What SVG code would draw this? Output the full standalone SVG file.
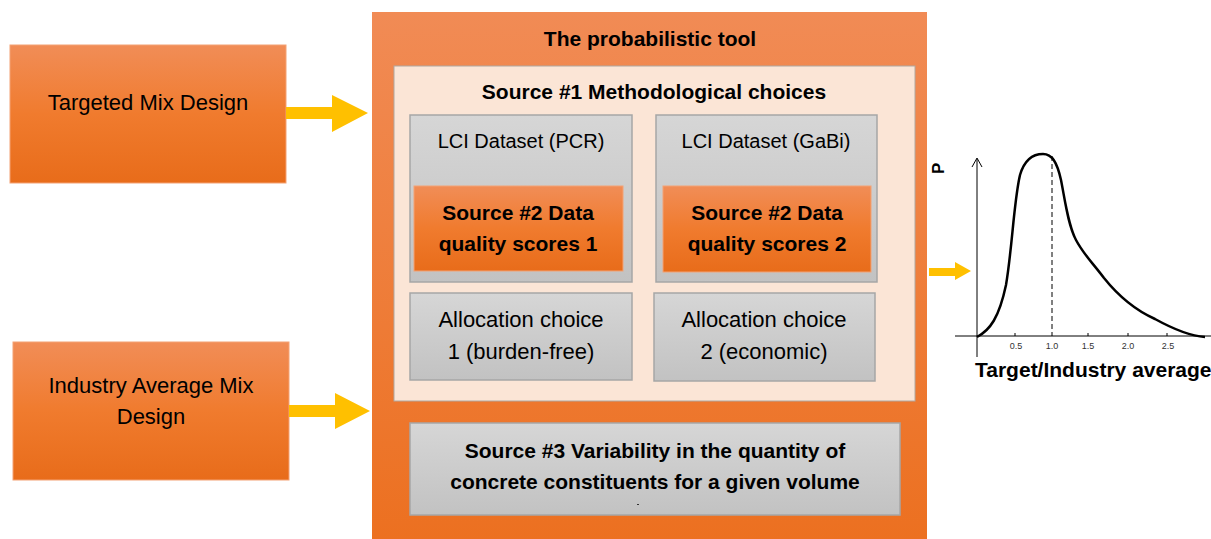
<svg xmlns="http://www.w3.org/2000/svg" width="1211" height="539" viewBox="0 0 1211 539">
<defs>
<linearGradient id="og" x1="0" y1="0" x2="0" y2="1">
<stop offset="0" stop-color="#F18D57"/><stop offset="0.5" stop-color="#F07B2E"/><stop offset="1" stop-color="#E86C1A"/>
</linearGradient>
<linearGradient id="mg" x1="0" y1="0" x2="0" y2="1">
<stop offset="0" stop-color="#F18B55"/><stop offset="1" stop-color="#EC7020"/>
</linearGradient>
<linearGradient id="gg" x1="0" y1="0" x2="0" y2="1">
<stop offset="0" stop-color="#D6D6D6"/><stop offset="1" stop-color="#C2C2C2"/>
</linearGradient>
</defs>
<style>
.t{font-family:"Liberation Sans",Arial,sans-serif;fill:#000;text-anchor:middle}
.r{font-size:22px}
.l{font-size:20px}
.b{font-size:21px;font-weight:bold}
.ob{fill:url(#og);stroke:#F4A274;stroke-width:1}
.gb{fill:url(#gg);stroke:#A6A6A6;stroke-width:1.5}
.ar{fill:#FFC000}
.tick{font-family:"Liberation Sans",Arial,sans-serif;font-size:9px;fill:#333;text-anchor:middle}
</style>
<rect width="1211" height="539" fill="#fff"/>

<g id="targeted">
<rect class="ob" x="10" y="45" width="276" height="138"/>
<text class="t r" x="148" y="110">Targeted Mix Design</text>
</g>

<g id="industry">
<rect class="ob" x="13" y="342" width="276" height="138"/>
<text class="t r" x="151" y="393">Industry Average Mix</text>
<text class="t r" x="151" y="424">Design</text>
</g>

<g id="tool">
<rect x="372" y="12" width="555" height="530" fill="url(#mg)"/>
<text class="t b" x="650" y="46">The probabilistic tool</text>
</g>

<g id="source1">
<rect x="394" y="66" width="521" height="335" fill="#FBE5D6" stroke="#B0A8A0" stroke-width="1"/>
<text class="t b" x="654" y="99">Source #1 Methodological choices</text>
</g>

<g id="lci-pcr">
<rect class="gb" x="410" y="115" width="222" height="167"/>
<text class="t l" x="521" y="148">LCI Dataset (PCR)</text>
</g>
<g id="dq1">
<rect class="ob" x="414" y="186" width="209" height="85"/>
<text class="t b" x="518" y="220">Source #2 Data</text>
<text class="t b" x="518" y="251">quality scores 1</text>
</g>

<g id="lci-gabi">
<rect class="gb" x="656" y="115" width="221" height="167"/>
<text class="t l" x="766" y="148">LCI Dataset (GaBi)</text>
</g>
<g id="dq2">
<rect class="ob" x="663" y="186" width="208" height="86"/>
<text class="t b" x="767" y="220">Source #2 Data</text>
<text class="t b" x="767" y="251">quality scores 2</text>
</g>

<g id="alloc1">
<rect class="gb" x="410" y="293" width="222" height="87"/>
<text class="t r" x="521" y="327">Allocation choice</text>
<text class="t r" x="521" y="359">1 (burden-free)</text>
</g>
<g id="alloc2">
<rect class="gb" x="654" y="293" width="221" height="88"/>
<text class="t r" x="764" y="327">Allocation choice</text>
<text class="t r" x="764" y="359">2 (economic)</text>
</g>

<g id="source3">
<rect class="gb" x="410" y="423" width="490" height="92"/>
<text class="t b" x="655" y="458">Source #3 Variability in the quantity of</text>
<text class="t b" x="655" y="489">concrete constituents for a given volume</text>
<rect x="637" y="504" width="2" height="1" fill="#333"/>
</g>

<g id="connectors">
<polygon class="ar" points="286,107 332,107 332,95 368,113 332,132 332,119 286,119"/>
<polygon class="ar" points="289,405 335,405 335,393 370,411 335,429 335,417 289,417"/>
<polygon class="ar" points="929,268 955,268 955,262 971,271 955,280 955,276 929,276"/>
</g>

<g id="chart">
<line x1="977" y1="357" x2="977" y2="159" stroke="#000" stroke-width="1"/>
<polyline points="972,167 977,158 982,167" fill="none" stroke="#000" stroke-width="1"/>
<line x1="955" y1="336" x2="1211" y2="336" stroke="#000" stroke-width="1"/>
<g stroke="#000" stroke-width="1">
<line x1="1015" y1="333" x2="1015" y2="336"/>
<line x1="1088" y1="333" x2="1088" y2="336"/>
<line x1="1128" y1="333" x2="1128" y2="336"/>
<line x1="1167" y1="333" x2="1167" y2="336"/>
</g>
<line x1="1052" y1="156" x2="1052" y2="336" stroke="#000" stroke-width="1" stroke-dasharray="5,3"/>
<path d="M977,337 C990,330 999,318 1006,285 C1012,250 1014,200 1020,175 C1025,158 1035,154 1043,154 C1052,154 1057,162 1061,180 C1065,200 1068,225 1076,240 C1084,255 1092,262 1104,278 C1120,298 1135,310 1155,319 C1175,330 1190,336 1205,337" fill="none" stroke="#000" stroke-width="2.5"/>
<text class="tick" x="1016" y="349">0.5</text>
<text class="tick" x="1052" y="349">1.0</text>
<text class="tick" x="1088" y="349">1.5</text>
<text class="tick" x="1128" y="349">2.0</text>
<text class="tick" x="1168" y="349">2.5</text>
<text font-family="Liberation Sans,Arial,sans-serif" font-size="17" font-weight="bold" transform="translate(944,174) rotate(-90)">P</text>
<text font-family="Liberation Sans,Arial,sans-serif" font-size="21" font-weight="bold" x="975" y="377">Target/Industry average</text>
</g>
</svg>
